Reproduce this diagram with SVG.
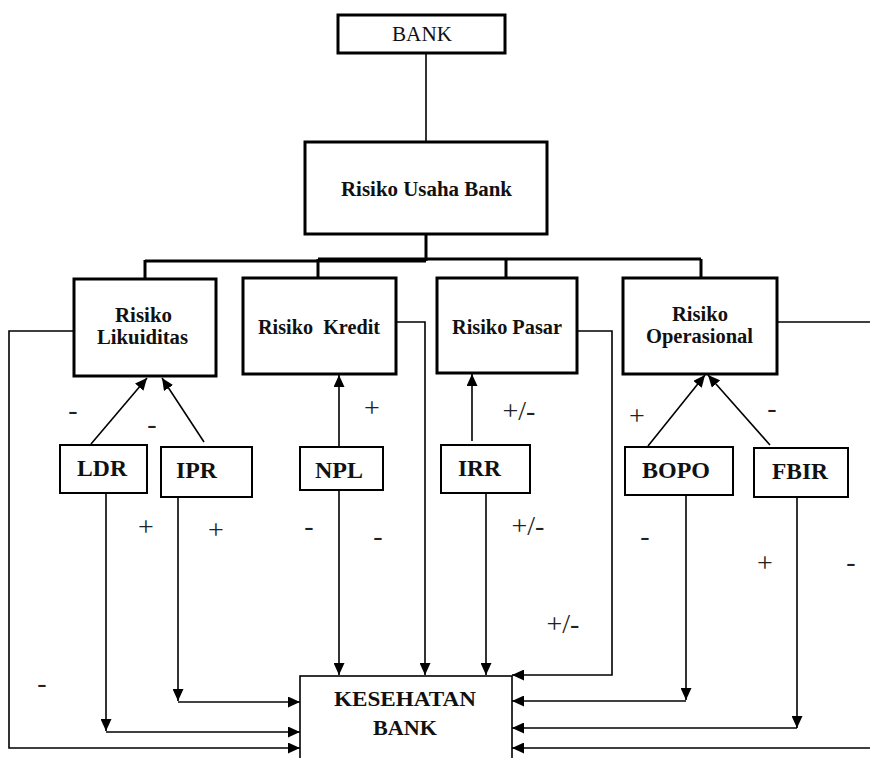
<svg xmlns="http://www.w3.org/2000/svg" width="870" height="758" viewBox="0 0 870 758">
<style>
.bx{fill:#fff;stroke:#000;stroke-width:3}
.sb{fill:#fff;stroke:#000;stroke-width:2}
.kb{fill:#fff;stroke:#000;stroke-width:1.6}
.ln{fill:none;stroke:#000;stroke-width:1.6}
.tk{fill:none;stroke:#000;stroke-width:3}
.t{font-family:"Liberation Serif","Times New Roman",serif;fill:#111;text-anchor:middle}
.b{font-weight:bold}
.sg{font-family:"Liberation Serif","Times New Roman",serif;font-size:28px;fill:#222;text-anchor:middle}
</style>
<defs>
<marker id="ah" markerUnits="userSpaceOnUse" markerWidth="12" markerHeight="11" refX="12" refY="5.5" orient="auto">
<path d="M0,0 L12,5.5 L0,11 z" fill="#000"/>
</marker>
</defs>
<rect width="870" height="758" fill="#fff"/>

<g id="connectors">
<line class="ln" x1="426" y1="53" x2="426" y2="142"/>
<line class="tk" x1="426" y1="235" x2="426" y2="261"/>
<line class="tk" x1="145" y1="261" x2="426" y2="261"/>
<line class="tk" x1="318" y1="259" x2="701" y2="259"/>
<line class="tk" x1="145" y1="260" x2="145" y2="279"/>
<line class="tk" x1="318" y1="259" x2="318" y2="278"/>
<line class="tk" x1="506" y1="259" x2="506" y2="278"/>
<line class="tk" x1="701" y1="259" x2="701" y2="278"/>

<line class="ln" x1="91" y1="444" x2="147" y2="378" marker-end="url(#ah)"/>
<line class="ln" x1="204" y1="442" x2="162" y2="378" marker-end="url(#ah)"/>
<line class="ln" x1="339" y1="447" x2="339" y2="375" marker-end="url(#ah)"/>
<line class="ln" x1="472" y1="441" x2="472" y2="374" marker-end="url(#ah)"/>
<line class="ln" x1="648" y1="446" x2="705" y2="375" marker-end="url(#ah)"/>
<line class="ln" x1="770" y1="445" x2="708" y2="375" marker-end="url(#ah)"/>

<path class="ln" d="M74,331 H9 V748 H300" marker-end="url(#ah)"/>
<path class="ln" d="M106,493 V731" marker-end="url(#ah)"/>
<path class="ln" d="M106,732 H300" marker-end="url(#ah)"/>
<path class="ln" d="M178,497 V701" marker-end="url(#ah)"/>
<path class="ln" d="M178,702 H300" marker-end="url(#ah)" style="stroke:#444;stroke-width:2"/>
<path class="ln" d="M339,490 V675" marker-end="url(#ah)"/>
<path class="ln" d="M396,322 H425 V675" marker-end="url(#ah)"/>
<path class="ln" d="M486,493 V675" marker-end="url(#ah)"/>
<path class="ln" d="M577,331 H612 V675 H512" marker-end="url(#ah)"/>
<path class="ln" d="M686,495 V700" marker-end="url(#ah)"/>
<path class="ln" d="M686,701 H512" marker-end="url(#ah)"/>
<path class="ln" d="M797,497 V728" marker-end="url(#ah)"/>
<path class="ln" d="M797,728 H512" marker-end="url(#ah)"/>
<path class="ln" d="M777,322 H885 V748 H512" marker-end="url(#ah)"/>
</g>

<g id="bank">
<rect class="bx" x="338" y="15" width="167" height="38"/>
<text class="t" x="422" y="41" font-size="20" textLength="60" lengthAdjust="spacingAndGlyphs">BANK</text>
</g>
<g id="risiko-usaha">
<rect class="bx" x="305" y="142" width="242" height="92"/>
<text class="t b" x="426.5" y="196" font-size="21" textLength="171" lengthAdjust="spacingAndGlyphs">Risiko Usaha Bank</text>
</g>
<g id="risiko-likuiditas">
<rect class="bx" x="74" y="279" width="142" height="97"/>
<text class="t b" x="143.5" y="322" font-size="20" textLength="57" lengthAdjust="spacingAndGlyphs">Risiko</text>
<text class="t b" x="142.5" y="344" font-size="20" textLength="91" lengthAdjust="spacingAndGlyphs">Likuiditas</text>
</g>
<g id="risiko-kredit">
<rect class="bx" x="243" y="278" width="153" height="96"/>
<text class="t b" x="319" y="334" font-size="21" textLength="122" lengthAdjust="spacingAndGlyphs" xml:space="preserve">Risiko  Kredit</text>
</g>
<g id="risiko-pasar">
<rect class="bx" x="437" y="278" width="140" height="95"/>
<text class="t b" x="507" y="334" font-size="21" textLength="110" lengthAdjust="spacingAndGlyphs">Risiko Pasar</text>
</g>
<g id="risiko-operasional">
<rect class="bx" x="623" y="278" width="154" height="96"/>
<text class="t b" x="700" y="321" font-size="20" textLength="56" lengthAdjust="spacingAndGlyphs">Risiko</text>
<text class="t b" x="699.5" y="343" font-size="20" textLength="107" lengthAdjust="spacingAndGlyphs">Operasional</text>
</g>
<g id="ldr">
<rect class="sb" x="60" y="445" width="87" height="48"/>
<text class="t b" x="102" y="476" font-size="24" textLength="50" lengthAdjust="spacingAndGlyphs">LDR</text>
</g>
<g id="ipr">
<rect class="sb" x="161" y="447" width="91" height="50"/>
<text class="t b" x="196.5" y="478" font-size="24" textLength="41" lengthAdjust="spacingAndGlyphs">IPR</text>
</g>
<g id="npl">
<rect class="sb" x="300" y="447" width="83" height="43"/>
<text class="t b" x="339" y="478" font-size="24" textLength="48" lengthAdjust="spacingAndGlyphs">NPL</text>
</g>
<g id="irr">
<rect class="sb" x="441" y="445" width="89" height="48"/>
<text class="t b" x="479.5" y="476" font-size="24" textLength="43" lengthAdjust="spacingAndGlyphs">IRR</text>
</g>
<g id="bopo">
<rect class="sb" x="625" y="447" width="108" height="48"/>
<text class="t b" x="676" y="478" font-size="24" textLength="68" lengthAdjust="spacingAndGlyphs">BOPO</text>
</g>
<g id="fbir">
<rect class="sb" x="754" y="448" width="94" height="49"/>
<text class="t b" x="800" y="479" font-size="24" textLength="56" lengthAdjust="spacingAndGlyphs">FBIR</text>
</g>
<g id="kesehatan-bank">
<rect class="kb" x="300" y="676" width="212" height="100"/>
<text class="t b" x="405" y="706" font-size="22" textLength="142" lengthAdjust="spacingAndGlyphs">KESEHATAN</text>
<text class="t b" x="405" y="735" font-size="22" textLength="64" lengthAdjust="spacingAndGlyphs">BANK</text>
</g>

<g id="signs">
<text class="sg" x="73" y="419">-</text>
<text class="sg" x="152" y="433">-</text>
<text class="sg" x="372" y="417">+</text>
<text class="sg" x="519" y="420">+/-</text>
<text class="sg" x="637" y="425">+</text>
<text class="sg" x="772" y="417">-</text>
<text class="sg" x="146" y="536">+</text>
<text class="sg" x="216" y="539">+</text>
<text class="sg" x="309" y="535">-</text>
<text class="sg" x="378" y="545">-</text>
<text class="sg" x="42" y="692">-</text>
<text class="sg" x="528" y="535">+/-</text>
<text class="sg" x="645" y="545">-</text>
<text class="sg" x="765" y="572">+</text>
<text class="sg" x="851" y="571">-</text>
<text class="sg" x="563" y="633">+/-</text>
</g>
</svg>
